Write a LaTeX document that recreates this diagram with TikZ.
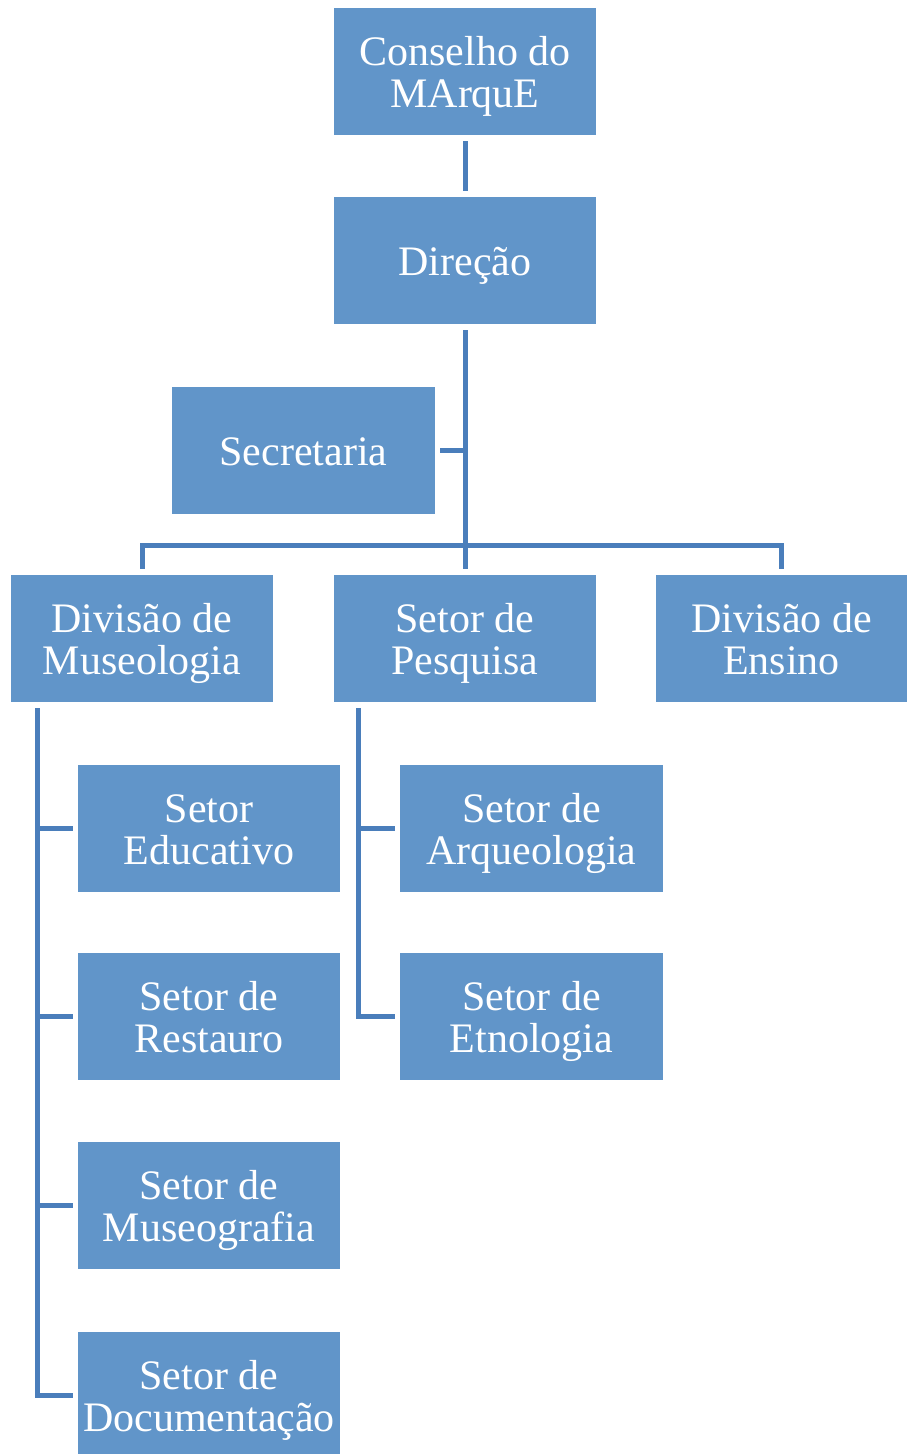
\documentclass[tikz,border=0pt]{standalone}
\usepackage{fontspec}
\setmainfont{Liberation Serif}
\definecolor{boxfill}{RGB}{97,149,201}
\definecolor{connc}{RGB}{74,126,187}
\tikzset{
  orgbox/.style={draw=none, fill=boxfill, inner sep=0pt,
    minimum width=262pt, minimum height=127pt},
  boxtext/.style={text=white, align=center, inner sep=0pt, yshift=-7pt,
    font=\fontsize{42}{42}\selectfont,
    execute at begin node=\strut, execute at end node=\strut},
  conn/.style={draw=connc, line width=5pt}
}
\begin{document}
\begin{tikzpicture}[x=1pt,y=-1pt]
\useasboundingbox (0,0) rectangle (907,1454);
\node[orgbox, label={[boxtext]center:Conselho do\\MArquE}] (con) at (465,71.5) {};
\node[orgbox, label={[boxtext]center:Direção}] (dir) at (465,260.5) {};
\node[orgbox, minimum width=263pt, label={[boxtext]center:Secretaria}] (sec) at (303.5,450.5) {};
\node[orgbox, label={[boxtext]center:Divisão de\\Museologia}] (mus) at (142,638.5) {};
\node[orgbox, label={[boxtext]center:Setor de\\Pesquisa}] (pes) at (465,638.5) {};
\node[orgbox, minimum width=251pt, label={[boxtext]center:Divisão de\\Ensino}] (ens) at (781.5,638.5) {};
\node[orgbox, label={[boxtext]center:Setor\\Educativo}] (edu) at (209,828.5) {};
\node[orgbox, label={[boxtext]center:Setor de\\Restauro}] (res) at (209,1016.5) {};
\node[orgbox, label={[boxtext]center:Setor de\\Museografia}] (mgr) at (209,1205.5) {};
\node[orgbox, label={[boxtext]center:Setor de\\Documentação}] (doc) at (209,1395.5) {};
\node[orgbox, minimum width=263pt, label={[boxtext]center:Setor de\\Arqueologia}] (arq) at (531.5,828.5) {};
\node[orgbox, minimum width=263pt, label={[boxtext]center:Setor de\\Etnologia}] (etn) at (531.5,1016.5) {};
\coordinate (busy) at (0,545);
\coordinate (mtrunk) at (37,0);
\coordinate (ptrunk) at (358,0);
\coordinate (mtop) at ([yshift=-6pt]mus.south);
\coordinate (ptop) at ([yshift=-6pt]pes.south);
% top
\draw[conn] ([yshift=-6pt]con.south) -- ([yshift=6pt]dir.north);
\draw[conn] ([yshift=-6pt]dir.south) -- (dir.south |- busy);
\draw[conn] ([xshift=5pt]sec.east) -- (sec.east -| dir.south);
\draw[conn] ([yshift=6pt]mus.north) -- (mus.north |- busy) -- (ens.north |- busy) -- ([yshift=6pt]ens.north);
\draw[conn] (pes.north |- busy) -- ([yshift=6pt]pes.north);
% museologia
\draw[conn] (mtrunk |- mtop) |- ([xshift=-5pt]doc.west);
\draw[conn] (mtrunk |- edu.west) -- ([xshift=-5pt]edu.west);
\draw[conn] (mtrunk |- res.west) -- ([xshift=-5pt]res.west);
\draw[conn] (mtrunk |- mgr.west) -- ([xshift=-5pt]mgr.west);
% pesquisa
\draw[conn] (ptrunk |- ptop) |- ([xshift=-5pt]etn.west);
\draw[conn] (ptrunk |- arq.west) -- ([xshift=-5pt]arq.west);
\end{tikzpicture}
\end{document}
